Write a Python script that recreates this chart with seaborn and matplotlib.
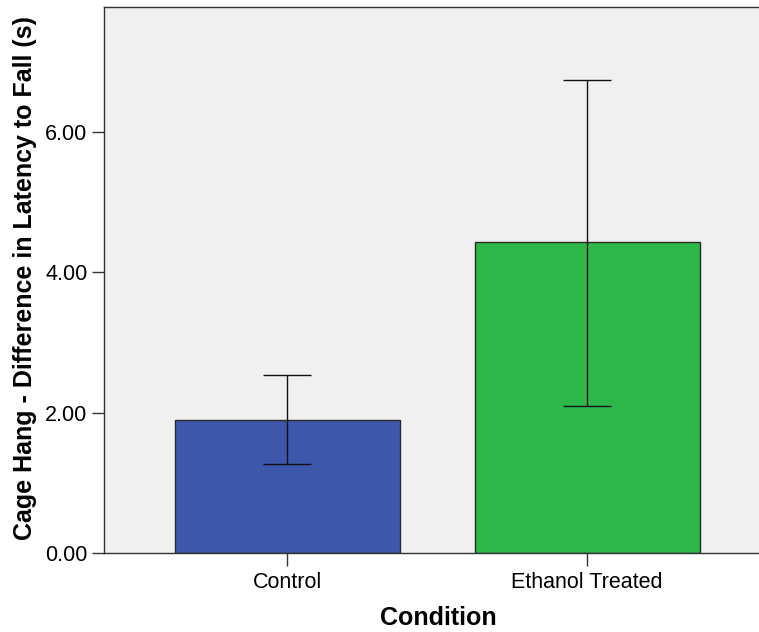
import matplotlib
matplotlib.use("Agg")
import matplotlib.pyplot as plt
import seaborn as sns
import pandas as pd

categories = ["Control", "Ethanol Treated"]
means = [1.90, 4.43]
err_low = [1.27, 2.10]
err_high = [2.53, 6.74]
yticks = [0, 2, 4, 6]
bar_colors = ["#3d58aa", "#2eb84a"]

sns.set_theme(style="white")
plt.rcParams["font.family"] = ["Liberation Sans", "DejaVu Sans"]

df = pd.DataFrame({"Condition": categories, "Value": means})

fig = plt.figure(figsize=(7.59, 6.32), dpi=100)
L, R, T, B = 104, 759, 7, 553
ax = fig.add_axes([L/759, 1-B/632, (R-L)/759, (B-T)/632])
ax.set_facecolor("#f0f0f0")

sns.barplot(data=df, x="Condition", y="Value", hue="Condition",
            palette=bar_colors, saturation=1, errorbar=None, width=0.75,
            edgecolor="#2a2a2a", linewidth=1.0, legend=False, ax=ax)

lo = [m - l for m, l in zip(means, err_low)]
hi = [h - m for m, h in zip(means, err_high)]
ax.errorbar(range(len(categories)), means, yerr=[lo, hi], fmt="none",
            ecolor="#111111", elinewidth=1.0, capsize=17.5, capthick=1.0, zorder=5)

ax.set_xlim(-0.61, 1.573)
ax.set_ylim(0, 7.78)
ax.set_yticks(yticks)
ax.set_yticklabels([f"{v:.2f}" for v in yticks])

for s in ax.spines.values():
    s.set_color("#333333")
    s.set_linewidth(1.0)
ax.spines["right"].set_visible(False)

ax.tick_params(axis="both", which="both", direction="out", length=9, width=1,
               color="#333333", labelsize=15.5, labelcolor="black", pad=3,
               left=True, bottom=True)
ax.tick_params(axis="x", pad=5)
ax.set_xlabel("Condition", fontsize=18, fontweight="bold", color="black")
ax.set_ylabel("Cage Hang - Difference in Latency to Fall (s)", fontsize=18,
              fontweight="bold", color="black")
ax.xaxis.set_label_coords((438 - L) / (R - L), (B - 618) / (B - T))
ax.xaxis.label.set_va("center")
ax.yaxis.set_label_coords((25 - L) / (R - L), (B - 278) / (B - T))
ax.yaxis.label.set_va("center")

fig.savefig("out.png", dpi=100, facecolor="white")
